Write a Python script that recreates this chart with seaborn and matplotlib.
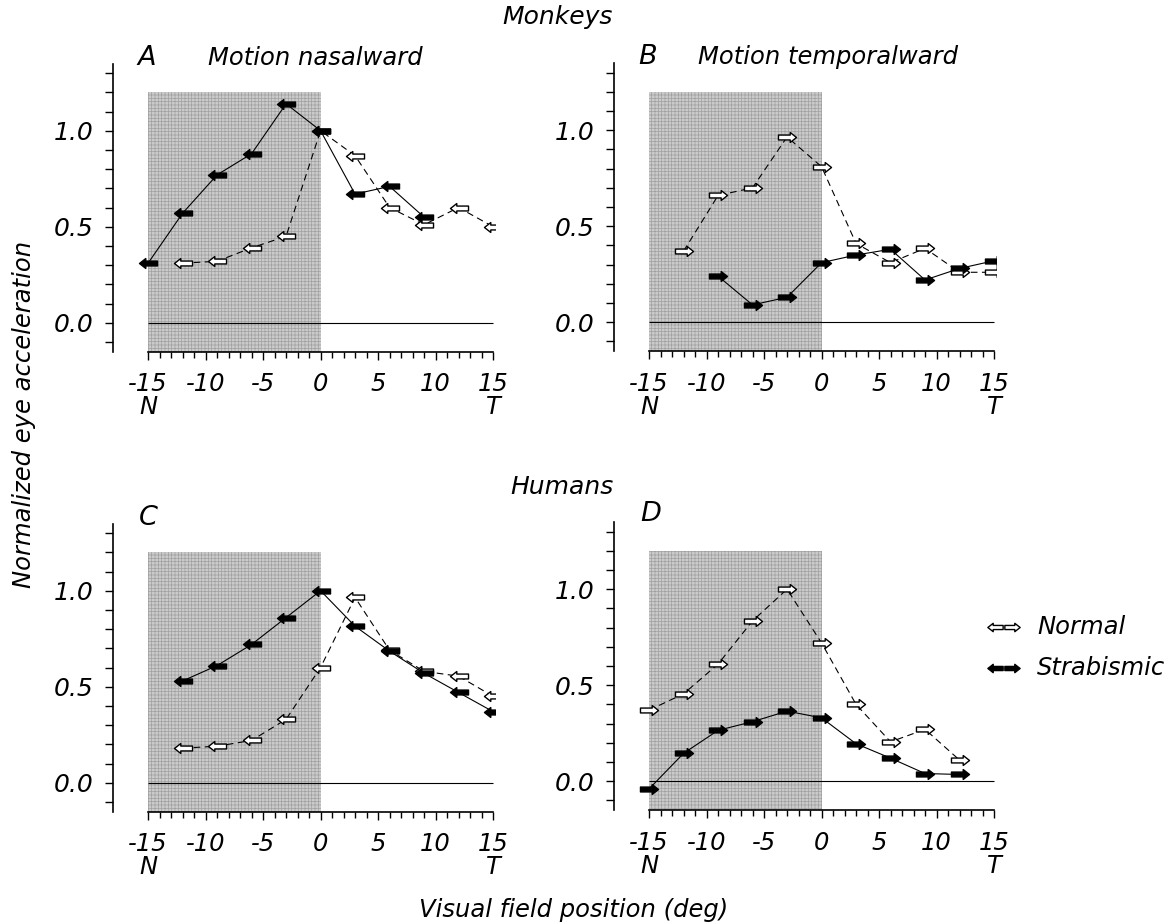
import numpy as np
import matplotlib
matplotlib.use("Agg")
import matplotlib.pyplot as plt
import seaborn as sns
from matplotlib.path import Path
from matplotlib.lines import Line2D

sns.set_style("ticks")
plt.rcParams['font.family'] = ['DejaVu Sans']
plt.rcParams['font.style'] = 'italic'
plt.rcParams['hatch.linewidth'] = 0.5
for k in ['text.color', 'axes.labelcolor', 'xtick.color', 'ytick.color',
          'axes.edgecolor']:
    plt.rcParams[k] = 'black'

# ---- data ----
# A: monkeys, motion nasalward
a_nor_x = [-12, -9, -6, -3, 0, 3, 6, 9, 12, 15]
a_nor_y = [0.31, 0.32, 0.39, 0.45, 1.00, 0.87, 0.60, 0.51, 0.60, 0.50]
a_str_x = [-15, -12, -9, -6, -3, 0, 3, 6, 9]
a_str_y = [0.31, 0.57, 0.77, 0.88, 1.14, 1.00, 0.67, 0.71, 0.55]
# B: monkeys, motion temporalward
b_nor_x = [-12, -9, -6, -3, 0, 3, 6, 9, 12, 15]
b_nor_y = [0.37, 0.66, 0.70, 0.965, 0.81, 0.41, 0.31, 0.385, 0.26, 0.26]
b_str_x = [-9, -6, -3, 0, 3, 6, 9, 12, 15]
b_str_y = [0.24, 0.09, 0.13, 0.31, 0.35, 0.38, 0.22, 0.28, 0.32]
# C: humans, motion nasalward
c_nor_x = [-12, -9, -6, -3, 0, 3, 6, 9, 12, 15]
c_nor_y = [0.18, 0.19, 0.22, 0.33, 0.60, 0.965, 0.69, 0.58, 0.555, 0.45]
c_str_x = [-12, -9, -6, -3, 0, 3, 6, 9, 12, 15]
c_str_y = [0.53, 0.61, 0.72, 0.86, 1.00, 0.815, 0.685, 0.57, 0.47, 0.37]
# D: humans, motion temporalward
d_nor_x = [-15, -12, -9, -6, -3, 0, 3, 6, 9, 12]
d_nor_y = [0.37, 0.455, 0.61, 0.835, 1.00, 0.72, 0.40, 0.205, 0.27, 0.11]
d_str_x = [-15, -12, -9, -6, -3, 0, 3, 6, 9, 12]
d_str_y = [-0.04, 0.145, 0.265, 0.31, 0.365, 0.33, 0.195, 0.12, 0.04, 0.035]

x_ticks = [-15, -10, -5, 0, 5, 10, 15]
x_ticklabels = ['-15\nN', '-10', '-5', '0', '5', '10', '15\nT']
y_ticks = [0.0, 0.5, 1.0]
y_ticklabels = ['0.0', '0.5', '1.0']

# block-arrow marker paths
_v = [(-1, 0), (-0.3, 0.55), (-0.3, 0.27), (1, 0.27), (1, -0.27),
      (-0.3, -0.27), (-0.3, -0.55), (-1, 0)]
_c = [Path.MOVETO] + [Path.LINETO] * 6 + [Path.CLOSEPOLY]
LEFT = Path(_v, _c)
RIGHT = Path([(-x, y) for x, y in _v], _c)

fig = plt.figure(figsize=(11.69, 9.24), dpi=100)
W, H = 1169, 924


def panel(left_px, bottom_px, nx, ny, sx, sy, arrow):
    ax = fig.add_axes([left_px / W, 1 - bottom_px / H, 382 / W, 288 / H])
    ax.set_xlim(-18.05, 15.17)
    ax.set_ylim(-0.15, 1.35)
    ylo, yhi = ax.get_ylim()
    ax.axvspan(-15, 0, ymin=0, ymax=(1.2 - ylo) / (yhi - ylo),
               facecolor='#cbcbcb', edgecolor='#a0a0a0', hatch='+++++',
               linewidth=0, zorder=0)
    ax.hlines(0, -15, 15, color='k', lw=0.8, zorder=1)
    sns.lineplot(x=nx, y=ny, ax=ax, color='k', lw=0.8, dashes=False,
                 linestyle=(0, (6, 4)), marker=arrow, markersize=13,
                 markerfacecolor='white', markeredgecolor='k',
                 markeredgewidth=1.0, zorder=3)
    sns.lineplot(x=sx, y=sy, ax=ax, color='k', lw=0.8, marker=arrow,
                 markersize=13, markerfacecolor='k', markeredgecolor='k',
                 markeredgewidth=1.0, zorder=4)
    sns.despine(ax=ax)
    ax.spines['bottom'].set_bounds(-15, 15)
    ax.spines['left'].set_linewidth(1.2)
    ax.spines['bottom'].set_linewidth(1.2)
    ax.set_xticks(x_ticks)
    ax.set_xticklabels(x_ticklabels, linespacing=0.95)
    ax.set_xticks(np.arange(-15, 16, 1), minor=True)
    ax.set_yticks(y_ticks)
    ax.set_yticklabels(y_ticklabels)
    ax.set_yticks(np.arange(-0.1, 1.31, 0.1), minor=True)
    ax.tick_params(axis='x', which='major', length=6, width=1, pad=9,
                   labelsize=17.5)
    ax.tick_params(axis='x', which='minor', length=4, width=1)
    ax.tick_params(axis='y', which='both', length=6, width=1, pad=8,
                   labelsize=18)
    ax.set_xlabel('')
    ax.set_ylabel('')
    return ax


panel(113, 351.5, a_nor_x, a_nor_y, a_str_x, a_str_y, LEFT)
panel(614, 351, b_nor_x, b_nor_y, b_str_x, b_str_y, RIGHT)
panel(113, 811.5, c_nor_x, c_nor_y, c_str_x, c_str_y, LEFT)
panel(614, 810, d_nor_x, d_nor_y, d_str_x, d_str_y, RIGHT)

# panel letters and titles
fig.text(137 / W, 1 - 65 / H, 'A', fontsize=19.5)
fig.text(208 / W, 1 - 65 / H, 'Motion nasalward', fontsize=17.5)
fig.text(638 / W, 1 - 64 / H, 'B', fontsize=19.5)
fig.text(698 / W, 1 - 64 / H, 'Motion temporalward', fontsize=17.5)
fig.text(139 / W, 1 - 525 / H, 'C', fontsize=19.5)
fig.text(640 / W, 1 - 521 / H, 'D', fontsize=19.5)
fig.text(558 / W, 1 - 24 / H, 'Monkeys', fontsize=18, ha='center')
fig.text(562 / W, 1 - 494 / H, 'Humans', fontsize=18, ha='center')

fig.text(24 / W, 1 - 414 / H, 'Normalized eye acceleration', fontsize=17.5,
         rotation=90, ha='center', va='center')
fig.text(574 / W, 1 - 917 / H, 'Visual field position (deg)', fontsize=17.5,
         ha='center', va='baseline')

# legend
for yy, face in [(627, 'white'), (668, 'k')]:
    for xx, mk in [(995, LEFT), (1012, RIGHT)]:
        fig.add_artist(Line2D([xx / W], [1 - yy / H], transform=fig.transFigure,
                              marker=mk, markersize=11, linestyle='none',
                              markerfacecolor=face, markeredgecolor='k',
                              markeredgewidth=1.0))
fig.text(1037 / W, 1 - 627 / H, 'Normal', fontsize=17.5, va='center')
fig.text(1037 / W, 1 - 668 / H, 'Strabismic', fontsize=17.5, va='center')

fig.savefig('out.png', dpi=100)
